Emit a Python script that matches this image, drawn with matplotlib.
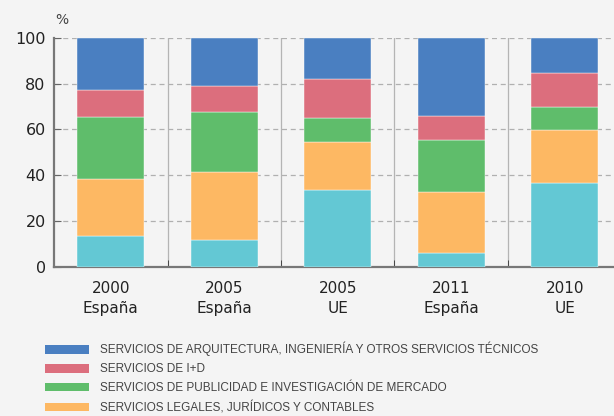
import numpy as np
import matplotlib
matplotlib.use("Agg")
import matplotlib.pyplot as plt
from matplotlib.patches import Patch

# data (percent shares, bottom to top)
years = ["2000", "2005", "2005", "2011", "2010"]
regions = ["España", "España", "UE", "España", "UE"]
cyan_vals = [13.6, 11.7, 33.6, 6.0, 36.4]
orange_vals = [24.6, 29.7, 20.8, 26.8, 23.2]
green_vals = [27.3, 26.1, 10.5, 22.8, 10.1]
red_vals = [11.8, 11.3, 17.0, 10.5, 15.2]
blue_vals = [22.7, 21.2, 18.1, 33.9, 15.1]

# only the first four legend rows are visible in the picture
labels = ["SERVICIOS DE ARQUITECTURA, INGENIERÍA Y OTROS SERVICIOS TÉCNICOS",
          "SERVICIOS DE I+D",
          "SERVICIOS DE PUBLICIDAD E INVESTIGACIÓN DE MERCADO",
          "SERVICIOS LEGALES, JURÍDICOS Y CONTABLES"]
colors = ["#4a7fc1", "#dc6e7d", "#5fbd6b", "#fdb863", "#63c8d4"]

bg = "#f4f4f4"
fig = plt.figure(figsize=(6.14, 4.16), dpi=100, facecolor=bg)
ax = fig.add_axes([54/614, (416-266.7)/416, 567.5/614, 228.7/416], facecolor=bg)

x = np.arange(len(years))
stack = [cyan_vals, orange_vals, green_vals, red_vals, blue_vals]
stack_colors = colors[::-1]
bottom = np.zeros(len(years))
for vals, c in zip(stack, stack_colors):
    ax.bar(x, vals, bottom=bottom, width=0.59, color=c, edgecolor="#ffffff",
           linewidth=0.3, zorder=3)
    bottom += np.array(vals)

ax.set_xlim(-0.5, len(years) - 0.5)
ax.set_ylim(0, 100)
ax.set_yticks([0, 20, 40, 60, 80, 100])
for v in [20, 40, 60, 80, 100]:
    ax.axhline(v, color="#b0b0b0", linestyle=(0, (4, 3)), linewidth=0.9, zorder=1)
for s in np.arange(0.5, len(years) - 0.5, 1):
    ax.axvline(s, color="#b4b4b4", linewidth=0.9, zorder=1)

ax.set_xticks(x)
ax.set_xticklabels([f"{a}\n{b}" for a, b in zip(years, regions)],
                   fontsize=11, color="#222222", linespacing=1.45)
ax.tick_params(axis="x", length=0, pad=10)
ax.set_xticks(np.arange(0.5, len(years) - 0.5, 1), minor=True)
ax.tick_params(axis="x", which="minor", direction="in", length=5, color="#333333")
ax.tick_params(axis="y", direction="in", length=5, labelsize=11.5,
               labelcolor="#222222", color="#666666", pad=6)

for side in ["top", "right"]:
    ax.spines[side].set_visible(False)
ax.spines["left"].set_color("#777777")
ax.spines["left"].set_linewidth(1.6)
ax.spines["bottom"].set_color("#777777")
ax.spines["bottom"].set_linewidth(1.6)

fig.text(55/614, 1 - 20/416, "%", fontsize=10, color="#444444", va="center")

handles = [Patch(facecolor=c, edgecolor="none") for c in colors[:len(labels)]]
fig.legend(handles, labels, loc="upper left", bbox_to_anchor=(45/614, 1 - 342/416),
           frameon=False, handlelength=3.7, handleheight=0.75,
           handletextpad=0.95, labelspacing=0.58, borderpad=0, borderaxespad=0,
           labelcolor="#444444", prop={"family": "Liberation Sans", "size": 8.5})

fig.savefig("out.png", dpi=100, facecolor=bg)
